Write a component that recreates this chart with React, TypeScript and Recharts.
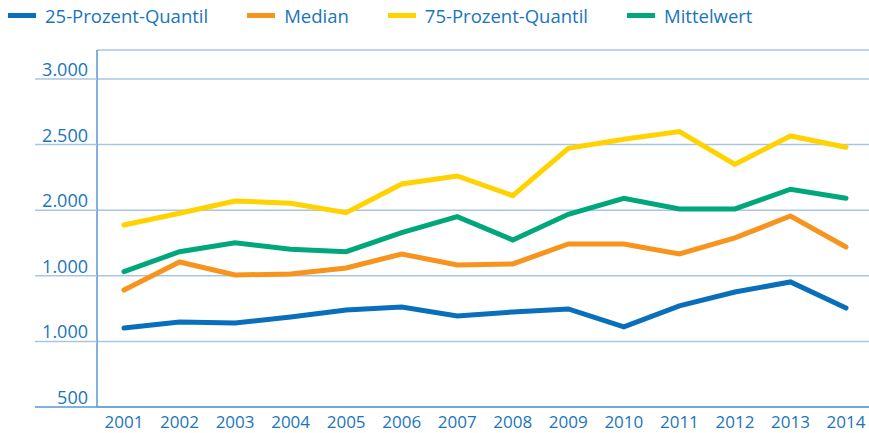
import { LineChart, Line, XAxis, YAxis, CartesianGrid } from 'recharts';

const years = ['2001', '2002', '2003', '2004', '2005', '2006', '2007', '2008', '2009', '2010', '2011', '2012', '2013', '2014'];
const quantil25 = [1102, 1148, 1140, 1186, 1239, 1262, 1193, 1224, 1247, 1110, 1270, 1376, 1453, 1254];
const median = [1391, 1605, 1506, 1513, 1559, 1666, 1582, 1590, 1742, 1742, 1666, 1788, 1955, 1719];
const quantil75 = [1887, 1976, 2070, 2052, 1981, 2199, 2260, 2110, 2471, 2540, 2598, 2349, 2565, 2479];
const mittelwert = [1531, 1683, 1752, 1702, 1683, 1828, 1950, 1773, 1968, 2090, 2009, 2009, 2159, 2090];

const yTicks = [500, 1000, 1500, 2000, 2500, 3000];
const yTickLabels = ['500', '1.000', '1.000', '2.000', '2.500', '3.000'];

const series = [
  { key: 'q25', name: '25-Prozent-Quantil', color: '#0a6fba', values: quantil25 },
  { key: 'median', name: 'Median', color: '#f7941d', values: median },
  { key: 'q75', name: '75-Prozent-Quantil', color: '#ffd200', values: quantil75 },
  { key: 'mean', name: 'Mittelwert', color: '#00a77a', values: mittelwert },
];

const data = years.map((year, i) => {
  const row: Record<string, string | number> = { year };
  series.forEach((s) => {
    row[s.key] = s.values[i];
  });
  return row;
});

const textColor = '#1a75bb';
const gridColor = '#a9c5e6';
const axisColor = '#5a96d2';
const font = '"Open Sans", "Noto Sans", sans-serif';

const YTick = (props: any) => {
  const { y, payload } = props;
  const label = yTickLabels[yTicks.indexOf(payload.value)];
  const isBase = payload.value === yTicks[0];
  return (
    <g>
      <line x1={35} x2={97} y1={y} y2={y} stroke={isBase ? axisColor : gridColor} strokeWidth={1.5} />
      <text x={88} y={y - 3} textAnchor="end" fill={textColor} fontSize={18} fontFamily={font}>
        {label}
      </text>
    </g>
  );
};

const XTick = (props: any) => {
  const { x, y, payload } = props;
  return (
    <text x={x} y={y} dy={21} textAnchor="middle" fill={textColor} fontSize={17} fontFamily={font}>
      {payload.value}
    </text>
  );
};

export default function App() {
  return (
    <div style={{ position: 'absolute', left: 0, top: 0, width: 869, height: 433, background: '#fff' }}>
      <div
        style={{
          position: 'absolute',
          left: 8,
          top: 3,
          display: 'flex',
          alignItems: 'center',
          fontFamily: font,
          fontSize: 18.5,
          color: textColor,
          whiteSpace: 'nowrap',
        }}
      >
        {series.map((s) => (
          <div key={s.key} style={{ display: 'flex', alignItems: 'center', marginRight: 39 }}>
            <span style={{ display: 'inline-block', width: 28, height: 5, background: s.color, marginRight: 9 }} />
            <span>{s.name}</span>
          </div>
        ))}
      </div>
      <LineChart width={869} height={433} data={data} margin={{ top: 50, right: 0, bottom: 0, left: 0 }}>
        <CartesianGrid horizontal vertical={false} stroke={gridColor} strokeWidth={1.5} />
        <XAxis
          dataKey="year"
          height={26}
          padding={{ left: 27, right: 23 }}
          tickLine={false}
          tickSize={0}
          tickMargin={0}
          axisLine={{ stroke: axisColor, strokeWidth: 1.5 }}
          tick={<XTick />}
          interval={0}
        />
        <YAxis
          width={97}
          domain={[500, 3220]}
          ticks={yTicks}
          tickLine={false}
          axisLine={{ stroke: axisColor, strokeWidth: 1.5 }}
          tick={<YTick />}
          interval={0}
        />
        {series.map((s) => (
          <Line
            key={s.key}
            type="linear"
            dataKey={s.key}
            name={s.name}
            stroke={s.color}
            strokeWidth={5}
            strokeLinecap="round"
            dot={false}
            activeDot={false}
            isAnimationActive={false}
          />
        ))}
      </LineChart>
    </div>
  );
}
